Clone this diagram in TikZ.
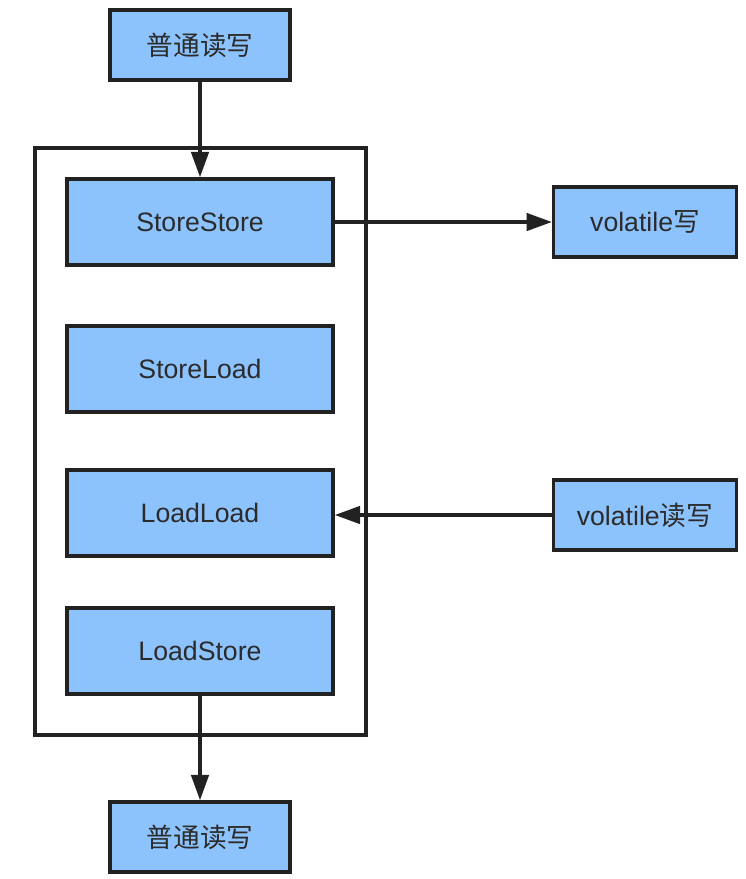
\documentclass[tikz,border=0pt]{standalone}
\usepackage{fontspec}
\setmainfont{Liberation Sans}
\newfontfamily\cjk{Noto Sans CJK SC}
\usetikzlibrary{arrows.meta}
\definecolor{boxblue}{HTML}{8DC3FD}
\definecolor{boxline}{HTML}{222222}
\definecolor{boxtext}{HTML}{2B2B2B}
\begin{document}
\begin{tikzpicture}[x=0.75pt,y=-0.75pt,
    smallbox/.style={draw=boxline, line width=2.6pt, fill=boxblue, text=boxtext,
      minimum width=135pt, minimum height=52.5pt, inner sep=0pt, font=\fontsize{20pt}{23pt}\selectfont},
    barrier/.style={smallbox, minimum width=199.5pt, minimum height=64.5pt},
    flow/.style={draw=boxline, line width=2.6pt, -{Triangle[length=19pt,width=13pt]}}]
    \useasboundingbox (0,0) rectangle (746,879);
    \draw[boxline, line width=2.6pt] (35,148) rectangle (366,735);
    \node[smallbox] (r0) at (200,45) {\cjk 普通读写};
      \node[barrier] (b1) at (200,222) {StoreStore};
      \node[barrier] (b2) at (200,369) {StoreLoad};
      \node[barrier] (b3) at (200,513) {LoadLoad};
      \node[barrier] (b4) at (200,651) {LoadStore};
      \node[smallbox, minimum width=137pt] (v1) at (645,222) {volatile{\cjk 写}};
      \node[smallbox, minimum width=137pt] (v2) at (645,515) {volatile{\cjk 读写}};
    \node[smallbox] (r1) at (200,837) {\cjk 普通读写};
      \path (r0) edge[flow] (b1);
      \path (b1) edge[flow] (v1);
      \path (v2.west) edge[flow] (b3.east |- v2.west);
      \path (b4) edge[flow] (r1);
    \end{tikzpicture}
\end{document}
